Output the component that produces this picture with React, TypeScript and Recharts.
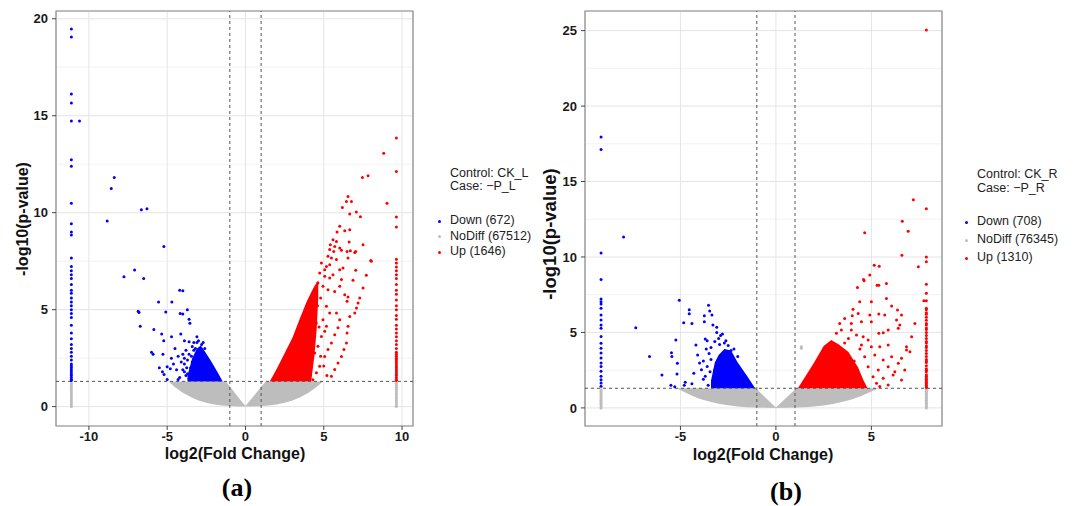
import React from 'react';
import {
  ComposedChart,
  Area,
  Scatter,
  XAxis,
  YAxis,
  CartesianGrid,
  ReferenceLine,
  ReferenceArea,
} from 'recharts';

const FONT = '"Liberation Sans", Arial, sans-serif';
const BLUE = '#0000ff';
const RED = '#ff0000';
const GREY = '#bdbdbd';

// thresholds shared by both panels
const foldCut = [-1, 1];
const pCut = 1.3;

// ---------- panel (a): CK_L vs -P_L ----------
const xTicksA = [-10, -5, 0, 5, 10];
const xMinorA = [-7.5, -2.5, 2.5, 7.5];
const yTicksA = [0, 5, 10, 15, 20];
const yMinorA = [2.5, 7.5, 12.5, 17.5];

// dense clouds as [x, low, high]
const greyBandA = [
  [-4.9, 1.3, 1.3], [-4.5, 1.0, 1.3], [-4.0, 0.72, 1.3], [-3.5, 0.5, 1.3],
  [-3.0, 0.32, 1.3], [-2.5, 0.2, 1.3], [-2.0, 0.11, 1.3], [-1.5, 0.06, 1.3],
  [-1.25, 0.04, 1.3], [-1.0, 0.03, 1.05], [-0.5, 0.01, 0.52], [0, 0, 0.03],
  [0.5, 0.01, 0.52], [1.0, 0.03, 1.02], [1.3, 0.04, 1.3], [2.0, 0.11, 1.3],
  [2.5, 0.2, 1.3], [3.0, 0.31, 1.3], [3.5, 0.48, 1.3], [4.0, 0.7, 1.3],
  [4.5, 0.98, 1.3], [4.95, 1.3, 1.3],
];
const blueBandA = [
  [-3.7, 1.3, 1.6], [-3.4, 1.3, 2.5], [-3.1, 1.3, 3.0], [-2.85, 1.3, 3.15],
  [-2.6, 1.3, 2.85], [-2.2, 1.3, 2.35], [-1.8, 1.3, 1.8], [-1.45, 1.3, 1.3],
];
const redBandA = [
  [1.55, 1.3, 1.3], [2.0, 1.3, 1.95], [2.5, 1.3, 2.75], [3.0, 1.3, 3.55],
  [3.5, 1.3, 4.6], [3.9, 1.3, 5.4], [4.2, 1.3, 5.9], [4.4, 2.6, 6.2],
  [4.55, 4.0, 6.4], [4.65, 5.6, 6.5],
];

const downA = [
  [-10.6, 14.73], [-8.38, 11.82], [-8.57, 11.25], [-8.83, 9.57], [-6.65, 10.15],
  [-6.29, 10.2], [-5.21, 8.25], [-7.76, 6.7], [-7.08, 7.05], [-6.5, 6.6],
  [-4.2, 6.0], [-4.0, 5.97], [-5.55, 5.4], [-4.7, 5.4], [-6.85, 4.92], [-6.8, 4.85],
  [-5.09, 4.88], [-4.17, 4.8], [-4.0, 4.78], [-3.71, 5.0], [-3.6, 4.5], [-3.55, 4.3],
  [-6.72, 4.14], [-5.85, 3.97], [-5.35, 3.75], [-5.22, 3.4], [-4.13, 3.75],
  [-4.72, 3.6], [-3.9, 3.4], [-3.6, 3.35], [-3.1, 3.6], [-6.0, 2.8], [-5.9, 2.7],
  [-5.27, 2.7], [-4.73, 2.5], [-5.5, 2.0], [-5.3, 1.8], [-5.2, 1.65], [-5.0, 2.05],
  [-4.8, 1.95], [-4.0, 1.9], [-3.9, 1.8], [-3.7, 1.7], [-3.5, 1.6], [-3.6, 1.45],
  [-5.0, 1.4], [-4.5, 3.0], [-4.3, 2.6], [-3.8, 2.9], [-3.4, 3.1], [-4.6, 2.2],
  [-4.1, 2.3], [-3.9, 2.5], [-3.6, 2.7], [-3.4, 2.3], [-3.3, 3.3], [-3.0, 3.4],
  [-3.9, 2.2], [-3.7, 2.4], [-3.8, 1.6], [-4.2, 1.5], [-3.5, 2.0], [-3.3, 2.9],
  [-3.1, 3.3], [-2.8, 3.2], [-2.6, 3.0], [-4.4, 1.9], [-4.0, 2.7], [-3.45, 2.6],
  [-3.2, 3.0], [-2.7, 3.3], [-4.3, 1.4], [-3.75, 2.0],
];
const downColXA = -11.12;
const downColA = [
  19.47, 19.06, 16.12, 15.65, 14.73, 12.73, 12.39, 10.48, 9.43, 9.0, 8.85,
  7.66, 7.23, 7.0, 6.8, 6.6, 6.3, 6.0, 5.85, 5.6, 5.4, 5.2, 5.0, 4.8, 4.6, 4.2,
  3.8, 3.5, 3.2, 3.0, 2.8, 2.6, 2.4, 2.2, 2.1, 2.0, 1.9, 1.8, 1.7, 1.6, 1.5, 1.4, 1.35,
];
const upA = [
  [6.55, 10.84], [6.45, 10.58], [6.77, 10.58], [6.19, 10.27], [7.08, 10.03],
  [7.34, 9.79], [6.66, 9.93], [6.02, 9.3], [5.85, 9.0], [6.34, 9.07], [6.66, 9.12],
  [5.59, 8.6], [5.81, 8.52], [5.42, 8.35], [5.7, 8.26], [6.02, 8.18], [6.62, 8.49],
  [5.38, 8.1], [5.64, 8.0], [6.13, 8.06], [6.49, 8.0], [6.7, 8.04], [7.04, 8.0],
  [7.51, 8.35], [5.27, 7.75], [5.49, 7.66], [5.81, 7.58], [6.55, 7.66], [6.98, 7.95],
  [8.0, 7.53], [4.85, 7.4], [5.17, 7.23], [5.38, 7.32], [5.06, 7.06], [6.02, 7.06],
  [6.23, 7.15], [7.04, 7.03], [7.72, 6.77], [4.74, 6.89], [5.06, 6.72], [5.38, 6.63],
  [5.59, 6.8], [6.13, 6.55], [6.87, 6.51], [7.51, 6.12], [4.63, 6.38], [4.95, 6.2],
  [5.27, 6.03], [5.7, 5.94], [6.02, 6.2], [6.34, 5.77], [6.55, 5.65], [6.49, 5.43],
  [7.3, 5.6], [7.19, 5.34], [7.09, 5.09], [6.98, 4.83], [6.66, 4.65], [6.55, 4.14],
  [6.49, 3.8], [6.45, 3.28], [6.29, 2.94], [6.13, 2.59], [5.91, 2.25], [5.7, 1.91],
  [5.49, 1.56], [5.81, 4.83], [6.02, 4.48], [5.91, 4.06], [5.7, 3.71], [5.49, 3.28],
  [5.27, 2.94], [5.06, 2.59], [4.74, 2.08], [4.53, 1.74], [4.31, 1.39], [5.17, 5.17],
  [5.38, 4.83], [4.95, 4.48], [5.17, 4.14], [4.85, 3.62], [4.63, 3.11], [5.06, 3.88],
  [4.53, 4.31], [4.31, 3.8], [4.1, 3.45], [4.42, 2.77], [4.8, 2.6], [5.0, 2.1],
  [5.2, 1.6], [4.6, 5.2], [4.8, 5.6], [4.4, 4.9], [4.7, 4.1],
  [7.47, 11.82], [7.83, 11.9], [8.83, 13.07], [9.04, 10.48], [8.04, 7.49],
];
const upColXA = 9.64;
const upColA = [
  13.85, 12.13, 9.78, 9.26, 7.6, 7.4, 7.2, 7.0, 6.8, 6.6, 6.3, 6.0, 5.8, 5.5, 5.2,
  5.0, 4.7, 4.5, 4.2, 4.0, 3.8, 3.6, 3.4, 3.2, 3.0, 2.8, 2.7, 2.6, 2.5, 2.4, 2.3,
  2.2, 2.1, 2.0, 1.9, 1.8, 1.7, 1.6, 1.5, 1.4, 1.35,
];
const noDiffA = [] as number[][];
const noDiffColA = [0, 0.1, 0.2, 0.3, 0.4, 0.5, 0.6, 0.7, 0.8, 0.9, 1.0, 1.1, 1.2];

// ---------- panel (b): CK_R vs -P_R ----------
const xTicksB = [-5, 0, 5];
const xMinorB = [-7.5, -2.5, 2.5, 7.5];
const yTicksB = [0, 5, 10, 15, 20, 25];
const yMinorB = [2.5, 7.5, 12.5, 17.5, 22.5];

const greyBandB = [
  [-5.2, 1.3, 1.3], [-4.8, 1.05, 1.3], [-4.4, 0.8, 1.3], [-4.0, 0.6, 1.3],
  [-3.5, 0.42, 1.3], [-3.0, 0.28, 1.3], [-2.5, 0.17, 1.3], [-2.0, 0.1, 1.3],
  [-1.5, 0.05, 1.3], [-1.05, 0.03, 1.3], [-0.5, 0.01, 0.62], [0, 0, 0.03],
  [0.5, 0.01, 0.62], [1.07, 0.03, 1.3], [1.5, 0.05, 1.3], [2.0, 0.1, 1.3],
  [2.5, 0.16, 1.3], [3.0, 0.26, 1.3], [3.5, 0.4, 1.3], [4.0, 0.57, 1.3],
  [4.5, 0.8, 1.3], [5.0, 1.08, 1.3], [5.4, 1.3, 1.3],
];
const blueBandB = [
  [-3.4, 1.3, 1.8], [-3.2, 1.3, 3.0], [-3.0, 1.3, 3.5], [-2.7, 1.3, 3.9],
  [-2.35, 1.3, 3.8], [-2.0, 1.3, 3.0], [-1.5, 1.3, 2.1], [-1.09, 1.3, 1.3],
];
const redBandB = [
  [1.15, 1.3, 1.3], [1.6, 1.3, 2.2], [2.0, 1.3, 3.0], [2.5, 1.3, 4.1],
  [2.9, 1.3, 4.5], [3.3, 1.3, 4.2], [3.8, 1.3, 3.7], [4.3, 1.3, 2.7],
  [4.6, 1.3, 1.8], [4.8, 1.3, 1.3],
];

const downB = [
  [-7.98, 11.33], [-7.34, 5.31], [-6.62, 3.4], [-5.97, 2.18], [-5.06, 7.14],
  [-4.54, 6.5], [-4.54, 6.24], [-4.83, 5.64], [-4.4, 5.6], [-5.24, 4.5],
  [-5.47, 3.66], [-5.45, 3.4], [-5.16, 2.95], [-5.18, 2.25], [-5.5, 1.5], [-5.3, 1.4],
  [-4.8, 1.5], [-4.75, 1.7], [-4.19, 4.17], [-4.1, 3.5], [-4.0, 2.97], [-3.9, 2.53],
  [-4.3, 2.3], [-3.8, 1.9], [-3.75, 6.1], [-3.75, 5.7], [-3.53, 6.8], [-3.35, 6.15],
  [-3.47, 6.42], [-3.7, 4.56], [-3.6, 4.45], [-3.1, 5.35], [-3.1, 5.0], [-2.9, 4.8],
  [-2.8, 4.9], [-2.62, 4.45], [-2.5, 4.13], [-2.35, 3.8], [-3.5, 3.6], [-3.4, 3.2],
  [-3.6, 2.75], [-3.2, 2.53], [-3.7, 2.1], [-3.3, 1.75], [-3.4, 4.0], [-3.2, 4.4],
  [-2.95, 4.2], [-3.65, 3.9], [-3.3, 5.5], [-3.0, 4.6], [-2.7, 4.3], [-3.55, 1.5],
  [-3.45, 2.4], [-3.8, 3.1], [-4.4, 1.6], [-2.2, 3.9], [-2.0, 3.4],
];
const downColXB = -9.16;
const downColB = [
  17.95, 17.13, 10.27, 8.51, 7.21, 7.03, 6.88, 6.6, 6.16, 5.83, 5.5, 5.28, 4.73,
  4.29, 3.96, 3.63, 3.3, 2.97, 2.75, 2.42, 2.09, 1.87, 1.65, 1.43,
];
const upB = [
  [7.2, 13.8], [6.62, 12.37], [6.93, 11.7], [4.65, 11.6], [6.6, 10.12], [7.46, 9.35],
  [5.15, 9.45], [5.41, 9.38], [4.92, 8.8], [4.59, 8.5], [4.27, 7.98], [5.3, 8.13],
  [4.62, 8.42], [5.39, 8.13], [5.79, 8.24], [4.39, 7.03], [5.0, 7.03], [5.79, 7.25],
  [6.06, 6.75], [6.37, 6.48], [4.04, 6.53], [4.31, 6.26], [4.92, 6.15], [5.39, 6.22],
  [5.7, 6.15], [6.32, 5.82], [3.6, 5.93], [3.95, 5.6], [4.48, 5.71], [5.0, 5.71],
  [5.39, 4.94], [5.62, 4.98], [5.88, 5.16], [6.41, 5.27], [3.34, 5.6], [3.43, 5.16],
  [3.17, 4.94], [3.95, 5.16], [4.22, 4.83], [4.57, 4.72], [4.83, 4.5], [4.48, 4.17],
  [5.0, 4.05], [5.44, 4.05], [5.88, 4.17], [6.84, 4.05], [4.65, 3.39], [5.18, 3.5],
  [5.62, 3.17], [6.06, 3.39], [6.58, 3.29], [7.28, 5.6], [4.83, 2.73], [5.36, 2.51],
  [5.88, 2.73], [6.41, 2.96], [7.02, 3.72], [5.09, 2.07], [5.62, 1.96], [6.14, 2.18],
  [6.75, 2.51], [5.27, 1.63], [5.88, 1.52], [6.58, 1.85], [6.58, 6.15], [6.49, 5.49],
  [7.11, 4.72], [6.84, 3.84], [6.23, 2.4], [5.44, 1.41], [4.4, 3.9], [3.8, 4.6],
  [4.1, 3.1], [3.6, 4.3], [4.0, 6.1], [7.75, 7.1],
];
const upColXB = 7.88;
const upColB = [
  25.04, 13.2, 10.0, 9.68, 8.2, 7.6, 7.1, 6.6, 6.5, 6.3, 6.2, 6.0, 5.8, 5.6, 5.5,
  5.3, 5.2, 5.0, 4.8, 4.6, 4.4, 4.3, 4.1, 4.0, 3.8, 3.6, 3.4, 3.2, 3.1, 3.0, 2.8,
  2.6, 2.5, 2.4, 2.2, 2.1, 2.0, 1.9, 1.8, 1.7, 1.6, 1.5, 1.4, 1.35,
];
const noDiffB = [[1.33, 4.05], [1.33, 3.95]];
const noDiffColB = [0, 0.1, 0.2, 0.3, 0.4, 0.5, 0.6, 0.7, 0.8, 0.9, 1.0, 1.1, 1.2];

const pts = (arr: number[][]) => arr.map(([x, y]) => ({ x, y }));
const col = (x: number, ys: number[]) => ys.map((y) => ({ x, y }));
const band = (arr: number[][]) => arr.map(([x, lo, hi]) => ({ x, band: [lo, hi] }));

const dot = (color: string) => (p: any) =>
  p.cx == null ? <g /> : <circle cx={p.cx} cy={p.cy} r={1.5} fill={color} />;

const tickStyle = { fontFamily: FONT, fontSize: 13, fontWeight: 700, fill: '#1a1a1a' };

function Volcano(props: any) {
  const {
    left, xDomain, yDomain, xTicks, yTicks, xMinor, yMinor,
    greyBand, blueBand, redBand, down, up, noDiff,
  } = props;
  return (
    <div style={{ position: 'absolute', left, top: 0 }}>
      <ComposedChart
        width={420}
        height={470}
        margin={{ top: 11, right: 7, bottom: 14, left: 0 }}
      >
        {/* minor grid through hidden axes, then major grid */}
        <XAxis xAxisId="minor" type="number" domain={xDomain} ticks={xMinor} allowDataOverflow hide />
        <YAxis yAxisId="minor" type="number" domain={yDomain} ticks={yMinor} allowDataOverflow hide />
        <CartesianGrid xAxisId="minor" yAxisId="minor" stroke="#f2f2f2" strokeWidth={1} />
        <CartesianGrid stroke="#e4e4e4" strokeWidth={1} />
        <XAxis
          type="number"
          dataKey="x"
          domain={xDomain}
          ticks={xTicks}
          allowDataOverflow
          height={30}
          axisLine={false}
          tickSize={4}
          tickLine={{ stroke: '#444' }}
          tick={tickStyle}
        />
        <YAxis
          type="number"
          domain={yDomain}
          ticks={yTicks}
          allowDataOverflow
          width={56}
          axisLine={false}
          tickSize={4}
          tickMargin={4}
          tickLine={{ stroke: '#444' }}
          tick={tickStyle}
        />
        <Area data={band(greyBand)} dataKey="band" type="linear" stroke="none" fill={GREY} fillOpacity={1} isAnimationActive={false} dot={false} activeDot={false} />
        <Area data={band(blueBand)} dataKey="band" type="linear" stroke="none" fill={BLUE} fillOpacity={1} isAnimationActive={false} dot={false} activeDot={false} />
        <Area data={band(redBand)} dataKey="band" type="linear" stroke="none" fill={RED} fillOpacity={1} isAnimationActive={false} dot={false} activeDot={false} />
        <Scatter data={noDiff} dataKey="y" shape={dot(GREY)} isAnimationActive={false} />
        <Scatter data={down} dataKey="y" shape={dot(BLUE)} isAnimationActive={false} />
        <Scatter data={up} dataKey="y" shape={dot(RED)} isAnimationActive={false} />
        {foldCut.map((v) => (
          <ReferenceLine key={'fc' + v} x={v} stroke="#555" strokeDasharray="3 3" />
        ))}
        <ReferenceLine y={pCut} stroke="#555" strokeDasharray="3 3" />
        <ReferenceArea
          x1={xDomain[0]}
          x2={xDomain[1]}
          y1={yDomain[0]}
          y2={yDomain[1]}
          fill="none"
          fillOpacity={0}
          stroke="#8c8c8c"
          strokeWidth={1.2}
        />
      </ComposedChart>
    </div>
  );
}

const txt = (style: React.CSSProperties): React.CSSProperties => ({
  position: 'absolute',
  fontFamily: FONT,
  whiteSpace: 'nowrap',
  lineHeight: 1,
  ...style,
});

function LegendBox({ left, top, control, caseName, counts, rows }: any) {
  const items = [
    { label: `Down (${counts[0]})`, color: BLUE },
    { label: `NoDiff (${counts[1]})`, color: GREY },
    { label: `Up (${counts[2]})`, color: RED },
  ];
  return (
    <>
      <div style={txt({ left, top: top[0] - 7, fontSize: 12.5, color: '#222' })}>
        Control: {control}
      </div>
      <div style={txt({ left, top: top[1] - 7, fontSize: 12.5, color: '#222' })}>
        Case: {caseName}
      </div>
      {items.map((it, i) => (
        <React.Fragment key={it.label}>
          <div
            style={{
              position: 'absolute',
              left: left - 12,
              top: rows[i] - 1.5,
              width: 3,
              height: 3,
              borderRadius: 2,
              background: it.color,
            }}
          />
          <div style={txt({ left, top: rows[i] - 7, fontSize: 12.5, color: '#222' })}>
            {it.label}
          </div>
        </React.Fragment>
      ))}
    </>
  );
}

export default function App() {
  return (
    <div
      style={{
        position: 'absolute',
        left: 0,
        top: 0,
        width: 1075,
        height: 506,
        background: '#fff',
        overflow: 'hidden',
      }}
    >
      <Volcano
        left={0}
        xDomain={[-12.1, 10.7]}
        yDomain={[-1, 20.4]}
        xTicks={xTicksA}
        yTicks={yTicksA}
        xMinor={xMinorA}
        yMinor={yMinorA}
        greyBand={greyBandA}
        blueBand={blueBandA}
        redBand={redBandA}
        noDiff={[...pts(noDiffA), ...col(downColXA, noDiffColA), ...col(upColXA, noDiffColA)]}
        down={[...pts(downA), ...col(downColXA, downColA)]}
        up={[...pts(upA), ...col(upColXA, upColA)]}
      />
      <Volcano
        left={529}
        xDomain={[-10, 8.7]}
        yDomain={[-1.2, 26.3]}
        xTicks={xTicksB}
        yTicks={yTicksB}
        xMinor={xMinorB}
        yMinor={yMinorB}
        greyBand={greyBandB}
        blueBand={blueBandB}
        redBand={redBandB}
        noDiff={[...pts(noDiffB), ...col(downColXB, noDiffColB), ...col(upColXB, noDiffColB)]}
        down={[...pts(downB), ...col(downColXB, downColB)]}
        up={[...pts(upB), ...col(upColXB, upColB)]}
      />

      {/* axis titles */}
      <div style={txt({ left: 235, top: 454, fontSize: 16, fontWeight: 700, color: '#111', transform: 'translate(-50%, -50%)' })}>
        log2(Fold Change)
      </div>
      <div style={txt({ left: 23, top: 219, fontSize: 16, fontWeight: 700, color: '#111', transform: 'translate(-50%, -50%) rotate(-90deg)' })}>
        -log10(p-value)
      </div>
      <div style={txt({ left: 763, top: 455, fontSize: 16, fontWeight: 700, color: '#111', transform: 'translate(-50%, -50%)' })}>
        log2(Fold Change)
      </div>
      <div style={txt({ left: 550, top: 234, fontSize: 18.5, fontWeight: 700, color: '#111', transform: 'translate(-50%, -50%) rotate(-90deg)' })}>
        -log10(p-value)
      </div>

      <LegendBox
        left={450}
        top={[174, 187]}
        control="CK_L"
        caseName="−P_L"
        counts={[672, 67512, 1646]}
        rows={[221, 236.5, 252]}
      />
      <LegendBox
        left={977}
        top={[175, 189]}
        control="CK_R"
        caseName="−P_R"
        counts={[708, 76345, 1310]}
        rows={[222, 240, 258]}
      />

      {/* panel labels */}
      <div style={txt({ left: 237, top: 488, fontSize: 26, fontWeight: 700, fontFamily: '"Liberation Serif", "Times New Roman", serif', color: '#000', transform: 'translate(-50%, -50%)' })}>
        (a)
      </div>
      <div style={txt({ left: 786, top: 492, fontSize: 26, fontWeight: 700, fontFamily: '"Liberation Serif", "Times New Roman", serif', color: '#000', transform: 'translate(-50%, -50%)' })}>
        (b)
      </div>
    </div>
  );
}
